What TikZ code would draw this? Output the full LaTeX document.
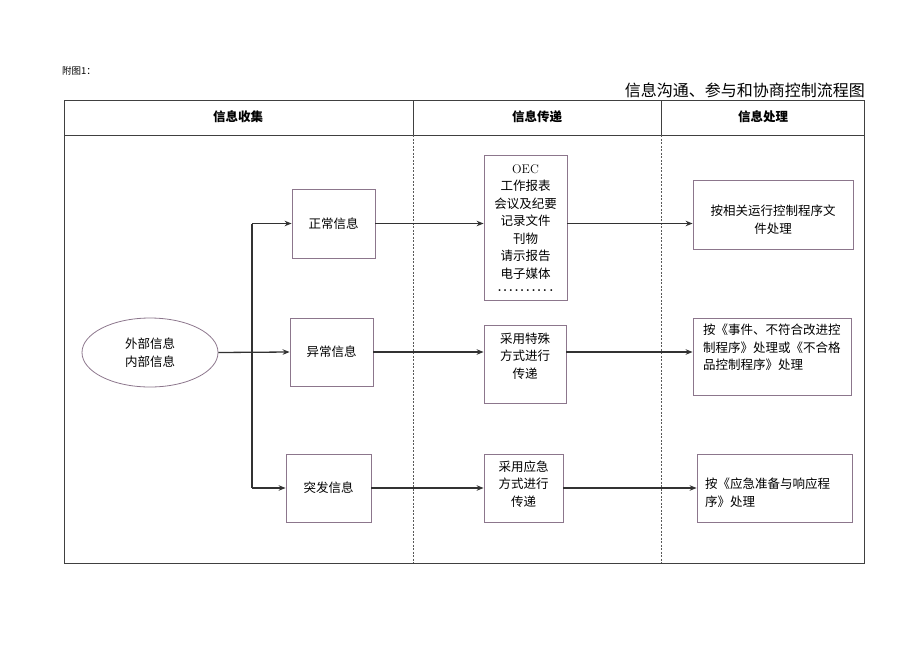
\documentclass[tikz,border=0pt]{standalone}
\usepackage{fontspec}
\newfontfamily\cjk{Noto Sans CJK SC}
\usetikzlibrary{arrows.meta,shapes.geometric}
\definecolor{boxcol}{RGB}{140,118,140}
\definecolor{linecol}{RGB}{50,50,50}
\begin{document}
\begin{tikzpicture}[x=1pt,y=-1pt,
  txt/.style={font=\cjk\fontsize{12.5}{17.5}\selectfont, align=center, inner sep=0pt},
  boxn/.style={draw=boxcol, line width=0.8pt, inner sep=0pt},
  frame/.style={draw=black!75, line width=1pt},
  divider/.style={draw=black!65, line width=1pt, dashed, dash pattern=on 2pt off 1.5pt},
  flow/.style={draw=linecol, line width=1.3pt, -{Stealth[length=7pt,width=5.5pt]}},
  seg/.style={draw=linecol, line width=1.3pt}]
\useasboundingbox (0,0) rectangle (920,651);
% captions
\node[font=\cjk\fontsize{9.5}{11}\selectfont, anchor=west, inner sep=0pt] (fig) at (62,71) {附图1：};
\node[font=\cjk\fontsize{16}{18}\selectfont, anchor=east, inner sep=0pt] (title) at (865,90) {信息沟通、参与和协商控制流程图};
% table frame
\draw[frame] (64,100) rectangle (864,563);
\draw[frame] (64,135) -- (864,135);
\draw[frame] (413,100) -- (413,135);
\draw[frame] (661,100) -- (661,135);
\draw[divider] (413,135) -- (413,563);
\draw[divider] (661,135) -- (661,563);
\node[txt, font=\cjk\bfseries\fontsize{12.5}{15}\selectfont] (h1) at (238,117) {信息收集};
\node[txt, font=\cjk\bfseries\fontsize{12.5}{15}\selectfont] (h2) at (537,117) {信息传递};
\node[txt, font=\cjk\bfseries\fontsize{12.5}{15}\selectfont] (h3) at (763,117) {信息处理};
% ellipse
\node[draw=boxcol, line width=0.8pt, ellipse, minimum width=136pt, minimum height=69pt, txt] (src) at (150,352.5) {外部信息\\内部信息};
% column 1
\node[boxn, minimum width=83pt, minimum height=69pt, txt] (n1) at (333.5,223.5) {正常信息};
\node[boxn, minimum width=83pt, minimum height=68pt, txt] (n2) at (331.5,352) {异常信息};
\node[boxn, minimum width=85pt, minimum height=68pt, txt] (n3) at (328.5,488) {突发信息};
% column 2
\node[boxn, minimum width=83pt, minimum height=145pt] (m1) at (525.5,227.5) {};
\node[txt] (m1t) at (525.5,228) {\rmfamily OEC\\工作报表\\会议及纪要\\记录文件\\刊物\\请示报告\\电子媒体\\[-4pt]\rmfamily\bfseries\fontsize{13}{15}\selectfont .\kern1.6pt.\kern1.6pt.\kern1.6pt.\kern1.6pt.\kern1.6pt.\kern1.6pt.\kern1.6pt.\kern1.6pt.\kern2.5pt.};
\node[boxn, minimum width=82pt, minimum height=78pt] (m2) at (525,364) {};
\node[txt] (m2t) at (525,356) {采用特殊\\方式进行\\传递};
\node[boxn, minimum width=79pt, minimum height=68pt] (m3) at (523.5,488) {};
\node[txt] (m3t) at (523.5,484) {采用应急\\方式进行\\传递};
% column 3
\node[boxn, minimum width=160pt, minimum height=69pt] (r1) at (773,214.5) {};
\node[txt] (r1t) at (773,219.5) {按相关运行控制程序文\\件处理};
\node[boxn, minimum width=158pt, minimum height=77pt] (r2) at (772,356.5) {};
\node[txt, align=left, anchor=north west] (r2t) at (703,324) {按《事件、不符合改进控\\制程序》处理或《不合格\\品控制程序》处理};
\node[boxn, minimum width=155pt, minimum height=68pt] (r3) at (774.5,488) {};
\node[txt, align=left, anchor=north west] (r3t) at (705,478) {按《应急准备与响应程\\序》处理};
% connectors
\coordinate (bt) at (252,223.5);
\coordinate (bb) at (252,488);
\draw[flow] (src.east) -- (n2.west);
\draw[seg] (bt) -- (bb);
\draw[flow] (bt) -- (n1.west);
\draw[flow] (bb) -- (n3.west);
\draw[flow] (n1.east) -- (n1.east -| m1.west);
\draw[flow] (n2.east) -- (n2.east -| m2.west);
\draw[flow] (n3.east) -- (m3.west);
\draw[flow] (n1.east -| m1.east) -- (n1.east -| r1.west);
\draw[flow] (n2.east -| m2.east) -- (n2.east -| r2.west);
\draw[flow] (m3.east) -- (r3.west);
\end{tikzpicture}
\end{document}
